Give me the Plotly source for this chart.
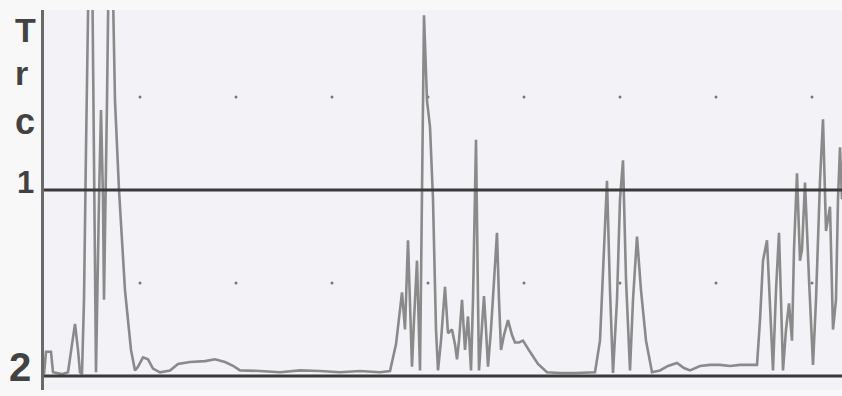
import plotly.graph_objects as go

t = [0, 2, 7, 9, 18, 24, 28, 31, 34, 36, 38, 40, 42, 45, 48, 50, 52, 55, 57, 59, 60, 63, 65, 68, 71, 75, 81, 87, 91, 94,
     99, 104, 109, 116, 126, 134, 146, 161, 171, 181, 189, 196, 216, 236, 256, 276, 296, 316, 336, 346,
     352, 358, 361, 364, 367, 368, 370, 373, 376, 378, 380, 383, 386, 389, 392, 394, 397, 401, 404, 408,
     411, 413, 415, 418, 421, 424, 427, 429, 432, 434, 435, 437, 440, 442, 444, 447, 450, 453, 455, 457,
     460, 464, 468, 471, 475, 479, 486, 494, 503, 516, 531, 546,
     551, 556, 560, 563, 566, 569, 573, 576, 579, 582, 586, 589, 593, 597, 602, 608, 616, 624, 633, 640,
     646, 656, 666, 676, 686, 696, 706, 713,
     716, 719, 723, 726, 729, 732, 735, 737, 739, 742, 745, 748, 750, 753, 756, 758, 761, 765, 769, 772,
     776, 779, 782, 786, 789, 792, 794, 796, 798]
v = [0.01, 0.13, 0.13, 0.02, 0.01, 0.02, 0.17, 0.28, 0.14, 0.02, 0.01, 0.41, 1.22, 2.3, 2.3, 0.95, 0.02, 0.95, 1.43, 0.95,
     0.41, 1.48, 2.34, 2.34, 1.48, 1.0, 0.46, 0.14, 0.03, 0.05,
     0.10, 0.09, 0.04, 0.02, 0.03, 0.065, 0.075, 0.08, 0.09, 0.075, 0.055, 0.03, 0.027, 0.02, 0.03, 0.027, 0.02, 0.027, 0.02, 0.027,
     0.17, 0.45, 0.25, 0.73, 0.25, 0.05, 0.30, 0.62, 0.03, 0.95, 1.94, 1.48, 1.34, 0.95, 0.25, 0.03, 0.19, 0.48, 0.23, 0.25,
     0.17, 0.09, 0.19, 0.41, 0.14, 0.32, 0.03, 0.41, 1.27, 0.41, 0.03, 0.19, 0.43, 0.25, 0.05, 0.25, 0.52, 0.77, 0.41, 0.14,
     0.22, 0.30, 0.22, 0.18, 0.18, 0.19, 0.13, 0.065, 0.02, 0.016, 0.016, 0.016,
     0.02, 0.19, 0.68, 1.05, 0.46, 0.016, 0.41, 0.95, 1.16, 0.52, 0.03, 0.41, 0.75, 0.46, 0.19, 0.02, 0.03, 0.054, 0.07, 0.043,
     0.03, 0.054, 0.06, 0.06, 0.054, 0.06, 0.06, 0.06,
     0.30, 0.62, 0.73, 0.41, 0.03, 0.46, 0.77, 0.41, 0.03, 0.25, 0.39, 0.19, 0.68, 1.09, 0.62, 0.68, 1.04, 0.52, 0.06, 0.41,
     1.05, 1.38, 0.78, 0.91, 0.25, 0.41, 0.95, 1.23, 0.95]

division = 96            # samples per screen division
grid_cols = [1, 2, 3, 4, 5, 6, 7, 8]
grid_rows = [0.5, 1.5]
levels = [0, 1]
labels = ["T", "r", "c", "1", "2"]
label_y = [1.86, 1.63, 1.37, 1.04, 0.05]
label_size = [34, 34, 36, 31, 40]
label_x = [-0.0238, -0.0276, -0.0238, -0.0238, -0.0295]

fig = go.Figure()

# grid dots
gx, gy = [], []
for r in grid_rows:
    for c in grid_cols:
        gx.append(c * division)
        gy.append(r)
fig.add_trace(go.Scatter(x=gx, y=gy, mode="markers",
                         marker=dict(size=3, color="#777777"), hoverinfo="skip"))
# small ticks on line 1
fig.add_trace(go.Scatter(x=[c * division for c in grid_cols], y=[1] * len(grid_cols), mode="markers",
                         marker=dict(size=4, color="#555555", symbol="line-ew-open",
                                     line=dict(width=2, color="#555555")), hoverinfo="skip"))

# trace
fig.add_trace(go.Scatter(x=t, y=v, mode="lines",
                         line=dict(color="#8a8a8a", width=2.6), hoverinfo="skip"))

for lv in levels:
    fig.add_shape(type="line", xref="paper", x0=0, x1=1, yref="y", y0=lv, y1=lv,
                  line=dict(color="#3a3a3a", width=3), layer="above")

for txt, yy, sz, xx in zip(labels, label_y, label_size, label_x):
    fig.add_annotation(text="<b>%s</b>" % txt, xref="paper", yref="y", x=xx, y=yy,
                       showarrow=False, xanchor="center", yanchor="middle",
                       font=dict(family="Liberation Sans, Arial, sans-serif", size=sz, color="#424242"))

fig.update_layout(
    width=842, height=396,
    margin=dict(l=44, r=0, t=10, b=6),
    paper_bgcolor="#f8f8f9",
    plot_bgcolor="#f3f3f7",
    showlegend=False,
)
fig.update_xaxes(range=[0, 798], showgrid=False, zeroline=False, showticklabels=False, ticks="",
                 showline=False)
fig.update_yaxes(range=[-0.0753, 1.968], showgrid=False, zeroline=False, showticklabels=False, ticks="",
                 showline=True, linecolor="#6a6a6a", linewidth=2.5)

fig.write_html("out.html", config={"displayModeBar": False},
               post_script="document.body.style.margin='0px'; document.body.style.overflow='hidden';")
